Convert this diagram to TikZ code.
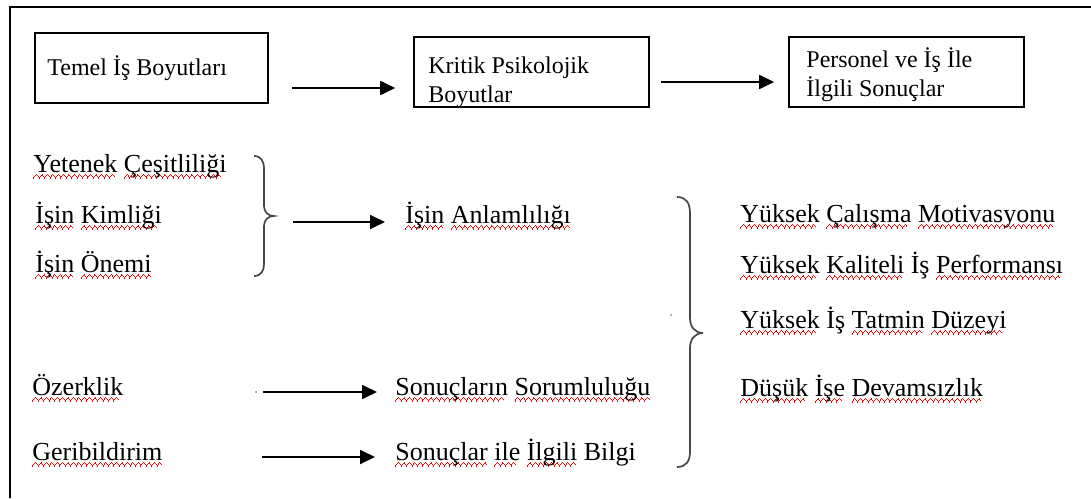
\documentclass[tikz,border=0pt]{standalone}
\usepackage{fontspec}
\setmainfont{Liberation Serif}
\usetikzlibrary{arrows.meta,fit}
\newlength\sqlen
\newcommand\wvpiece{\hbox{\rule[-3.3pt]{0.45pt}{0.75pt}\rule[-2.7pt]{0.45pt}{0.75pt}\rule[-2.1pt]{0.45pt}{0.75pt}\rule[-1.5pt]{0.45pt}{0.75pt}\rule[-2.1pt]{0.45pt}{0.75pt}\rule[-2.7pt]{0.45pt}{0.75pt}}}
\newcommand\sq[1]{\settowidth\sqlen{#1}\leavevmode\rlap{\textcolor{red}{\hbox to\sqlen{\leaders\wvpiece\hfill}}}#1}
\tikzset{
  box/.style={draw, line width=0.8pt, inner sep=0pt},
  txt/.style={anchor=base west, inner sep=0pt, font=\fontsize{13}{15}\selectfont},
  btxt/.style={anchor=base west, inner sep=0pt, font=\fontsize{12}{14}\selectfont},
  arr/.style={-{Triangle[length=7.5pt,width=7pt]}, line width=0.9pt},
  bracel/.style={line width=0.85pt, draw=black!72},
  framel/.style={line width=1pt},
}
\begin{document}
\begin{tikzpicture}[x=0.5pt,y=-0.5pt]
\useasboundingbox[fill=white] (0,0) rectangle (1091,498);
% frame (top and left edges)
\coordinate (fa) at (10,498);
\coordinate (fb) at (10,7);
\coordinate (fc) at (1091,7);
\draw[framel] (fa) -- (fb) -- (fc);
% header boxes
\node[box, fit={(35,33) (268,103)}] (b1) {};
\node[box, fit={(414,37) (649,107)}] (b2) {};
\node[box, fit={(789,37) (1024,107)}] (b3) {};
\node[btxt] (t1) at (47,75) {Temel İş Boyutları};
\node[btxt] (t2a) at (428,73) {Kritik Psikolojik};
\node[btxt] (t2b) at (428,102) {Boyutlar};
\node[btxt] (t3a) at (806,67) {Personel ve İş İle};
\node[btxt] (t3b) at (806,96) {İlgili Sonuçlar};
\draw[arr] ([shift={(23,20)}]b1.east) -- ([shift={(-18,16)}]b2.west);
\draw[arr] ([shift={(11,10)}]b2.east) -- ([shift={(-14,10)}]b3.west);
% left column
\node[txt] (yc) at (33,172) {\sq{Yetenek} \sq{Çeşitliliği}};
\node[txt] (ik) at (35,223) {\sq{İşin} \sq{Kimliği}};
\node[txt] (io) at (35,272) {\sq{İşin} \sq{Önemi}};
\node[txt] (oz) at (32,395) {\sq{Özerklik}};
\node[txt] (gb) at (32,460) {\sq{Geribildirim}};
% middle column
\node[txt] (ia) at (405,223) {\sq{İşin} \sq{Anlamlılığı}};
\node[txt] (ss) at (395,395) {\sq{Sonuçların} \sq{Sorumluluğu}};
\node[txt] (sb) at (395,460) {\sq{Sonuçlar} \sq{ile} \sq{İlgili} Bilgi};
% right column
\node[txt] (r1) at (740,222) {\sq{Yüksek} \sq{Çalışma} \sq{Motivasyonu}};
\node[txt] (r2) at (740,273) {\sq{Yüksek} \sq{Kaliteli} İş \sq{Performansı}};
\node[txt] (r3) at (740,328) {\sq{Yüksek} İş \sq{Tatmin} \sq{Düzeyi}};
\node[txt] (r4) at (740,396) {\sq{Düşük} \sq{İşe} \sq{Devamsızlık}};
% left brace
\coordinate (lbt) at (274,216);
\draw[bracel] (254,156) .. controls (261,156) and (264,161) .. (264,169)
  -- (264,206) .. controls (264,212) and (268,216) .. (lbt)
  .. controls (268,216) and (264,220) .. (264,226)
  -- (264,264) .. controls (264,271) and (261,276) .. (254,276);
% right brace
\coordinate (rbt) at (703,333);
\draw[bracel] (677,197) .. controls (686,197) and (690,203) .. (690,213)
  -- (690,318) .. controls (690,327) and (695,333) .. (rbt)
  .. controls (695,333) and (690,339) .. (690,348)
  -- (690,452) .. controls (690,461) and (686,467) .. (677,467);
% arrows to critical dimensions
\coordinate (a3e) at (385,222);
\draw[arr] ([shift={(19,6)}]lbt) -- (a3e);
\coordinate (a4s) at (263,392);
\coordinate (a4e) at (377,392);
\draw[arr] (a4s) -- (a4e);
\coordinate (a5s) at (262,457);
\coordinate (a5e) at (375,457);
\draw[arr] (a5s) -- (a5e);
% stray dots
\fill[black!60] (256,392) circle (0.8);
\fill[black!60] (671,315) circle (0.8);
\end{tikzpicture}
\end{document}
